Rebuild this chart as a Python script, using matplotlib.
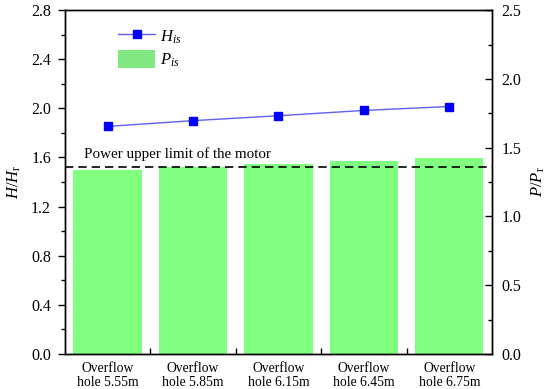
import matplotlib
matplotlib.use("Agg")
import matplotlib.pyplot as plt
from matplotlib.ticker import MultipleLocator, FixedLocator
from matplotlib.lines import Line2D
from matplotlib.patches import Patch

plt.rcParams["font.family"] = ["Liberation Serif", "DejaVu Serif"]
plt.rcParams["mathtext.fontset"] = "custom"
plt.rcParams["mathtext.rm"] = "Liberation Serif"
plt.rcParams["mathtext.it"] = "Liberation Serif:italic"

categories = ["Overflow\nhole 5.55m", "Overflow\nhole 5.85m", "Overflow\nhole 6.15m",
              "Overflow\nhole 6.45m", "Overflow\nhole 6.75m"]
head_ratio = [1.853, 1.90, 1.94, 1.983, 2.015]
power_ratio = [1.339, 1.357, 1.383, 1.405, 1.422]
power_limit = 1.36

x = list(range(len(categories)))

fig = plt.figure(figsize=(5.5, 3.89), dpi=100)
ax1 = fig.add_axes([0.118, 0.09, 0.7765, 0.884])
ax2 = ax1.twinx()

ax2.bar(x, power_ratio, width=0.8, color="#80ff80", zorder=1)
ax2.axhline(power_limit, color="black", linestyle=(0, (5, 3)), linewidth=1.2, zorder=3)
ax2.text(-0.28, 1.455, "Power upper limit of the motor", fontsize=10.8, va="center", ha="left")

ax1.plot(x, head_ratio, color="#6060f0", linewidth=1.0, marker="s", markersize=5.5,
         markerfacecolor="#0000ff", markeredgecolor="#0000ff", zorder=5)

ax1.set_zorder(ax2.get_zorder() + 1)
ax1.patch.set_visible(False)

ax1.set_xlim(-0.5, 4.5)
ax1.set_ylim(0, 2.8)
ax2.set_ylim(0, 2.5)

ax1.yaxis.set_major_locator(MultipleLocator(0.4))
ax1.yaxis.set_minor_locator(MultipleLocator(0.2))
ax2.yaxis.set_major_locator(MultipleLocator(0.5))
ax2.yaxis.set_minor_locator(MultipleLocator(0.25))
ax1.yaxis.set_major_formatter(plt.FuncFormatter(lambda v, p: f"{v:.1f}"))
ax2.yaxis.set_major_formatter(plt.FuncFormatter(lambda v, p: f"{v:.1f}"))

ax1.xaxis.set_major_locator(FixedLocator([0.5, 1.5, 2.5, 3.5]))
ax1.xaxis.set_minor_locator(FixedLocator(x))
ax1.set_xticklabels([], minor=False)
ax1.set_xticklabels(categories, minor=True, fontsize=9.8, linespacing=1.1)
ax1.tick_params(axis="x", which="major", direction="in", length=4, width=1)
ax1.tick_params(axis="x", which="minor", length=0, pad=6)

ax1.tick_params(axis="y", which="major", direction="out", length=5, width=1, labelsize=11.5, pad=5)
ax1.tick_params(axis="y", which="minor", direction="out", length=3, width=1)
ax2.tick_params(axis="y", which="major", direction="in", length=5, width=1, labelsize=11.5, pad=7)
ax2.tick_params(axis="y", which="minor", direction="in", length=3, width=1)

for a in (ax1, ax2):
    for s in a.spines.values():
        s.set_linewidth(1.0)

ax1.set_ylabel(r"$H/H_{\mathrm{r}}$", fontsize=12, labelpad=6)
ax2.set_ylabel(r"$P/P_{\mathrm{r}}$", fontsize=12, labelpad=6)

handles = [
    Line2D([0], [0], color="#6060f0", linewidth=1.0, marker="s", markersize=5.5,
           markerfacecolor="#0000ff", markeredgecolor="#0000ff"),
    Patch(facecolor="#80e880", edgecolor="none"),
]
ax1.legend(handles, [r"$H_{is}$", r"$P_{is}$"], loc="upper left",
           bbox_to_anchor=(0.09, 0.995), frameon=False, fontsize=12,
           handlelength=2.2, handleheight=1.3, handletextpad=0.3, labelspacing=0.25)

fig.savefig("out.png", dpi=100)
